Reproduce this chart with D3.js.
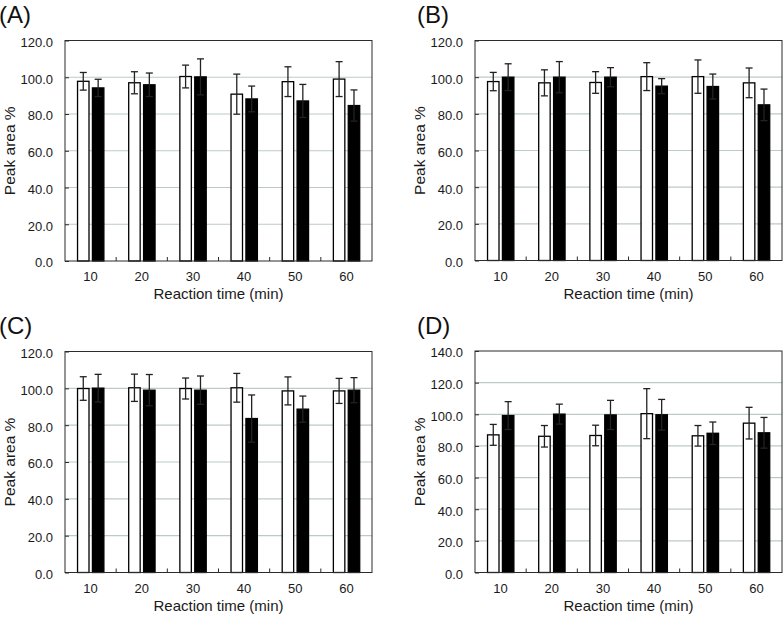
<!DOCTYPE html>
<html lang="en">
<head>
  <meta charset="UTF-8">
  <title>Peak area vs reaction time</title>
  <script src="https://d3js.org/d3.v7.min.js"></script>
  <style>
    body { margin: 0; padding: 0; background: #fff; }
    svg { display: block; font-family: "Liberation Sans", Arial, sans-serif; }
    .grid { stroke: #bccbc8; stroke-width: 1.2; }
    .frame { fill: none; stroke: #2b2b2b; stroke-width: 1; }
    .tick text { fill: #1a1a1a; }
    .tick line { stroke: #2b2b2b; }
    .err { stroke: #222; stroke-width: 1.3; }
  </style>
</head>
<body>
  <div id="chart"></div>

  <script>
    // categories
    const times = ["10", "20", "30", "40", "50", "60"];
    const series = ["white", "black"];

    // tick labels
    const ticks120 = [0, 20, 40, 60, 80, 100, 120];
    const ticks140 = [0, 20, 40, 60, 80, 100, 120, 140];

    // (A)
    const aWhite = [97.8, 97.0, 100.4, 90.8, 97.6, 99.0];
    const aWhiteErr = [4.8, 6.0, 6.2, 10.9, 8.1, 9.5];
    const aBlack = [94.2, 95.9, 100.2, 88.2, 87.1, 84.6];
    const aBlackErr = [4.7, 6.4, 9.8, 7.0, 9.0, 8.5];

    // (B)
    const bWhite = [97.6, 96.9, 97.1, 100.3, 100.3, 96.9];
    const bWhiteErr = [5.0, 7.1, 5.9, 7.6, 9.1, 8.1];
    const bBlack = [100.0, 100.0, 100.0, 95.1, 94.9, 84.9];
    const bBlackErr = [7.3, 8.5, 5.2, 4.1, 6.8, 8.6];

    // (C)
    const cWhite = [99.9, 100.3, 99.9, 100.3, 98.6, 98.6];
    const cWhiteErr = [6.4, 7.4, 5.7, 7.8, 7.6, 6.8];
    const cBlack = [100.1, 99.0, 99.0, 83.6, 88.7, 99.0];
    const cBlackErr = [7.5, 8.5, 7.7, 12.8, 7.1, 6.8];

    // (D)
    const dWhite = [87.0, 86.1, 86.6, 100.4, 86.4, 94.4];
    const dWhiteErr = [6.6, 6.8, 6.5, 15.8, 6.5, 10.0];
    const dBlack = [99.2, 100.1, 99.6, 99.7, 88.0, 88.3];
    const dBlackErr = [8.8, 6.3, 9.2, 9.7, 7.1, 9.7];

    const panels = [
      { label: "(A)", lx: -1, ly: 22.5, left: 65, top: 40.5, right: 372, bottom: 261,
        ticks: ticks120, white: aWhite, whiteErr: aWhiteErr, black: aBlack, blackErr: aBlackErr },
      { label: "(B)", lx: 417, ly: 22.5, left: 475, top: 40.5, right: 782, bottom: 260.5,
        ticks: ticks120, white: bWhite, whiteErr: bWhiteErr, black: bBlack, blackErr: bBlackErr },
      { label: "(C)", lx: -1, ly: 333.5, left: 65, top: 351.5, right: 372, bottom: 572.5,
        ticks: ticks120, white: cWhite, whiteErr: cWhiteErr, black: cBlack, blackErr: cBlackErr },
      { label: "(D)", lx: 417, ly: 334, left: 475, top: 351, right: 782, bottom: 572.5,
        ticks: ticks140, white: dWhite, whiteErr: dWhiteErr, black: dBlack, blackErr: dBlackErr }
    ];

    const svg = d3.select("#chart")
      .append("svg")
      .attr("width", 784)
      .attr("height", 618);

    panels.forEach(p => drawPanel(p));

    function drawPanel(p) {
      const g = svg.append("g");

      const x = d3.scaleBand()
        .domain(times)
        .range([p.left, p.right])
        .padding(0);

      const bw = x.bandwidth();
      const xs = d3.scaleBand()
        .domain(series)
        .range([0.245 * bw, 0.76 * bw])
        .paddingInner(0.23)
        .paddingOuter(0);

      const y = d3.scaleLinear()
        .domain([0, d3.max(p.ticks)])
        .range([p.bottom, p.top]);

      // gridlines
      g.selectAll(".grid")
        .data(p.ticks.slice(1, -1))
        .enter()
        .append("line")
        .attr("class", "grid")
        .attr("x1", p.left)
        .attr("x2", p.right)
        .attr("y1", d => y(d))
        .attr("y2", d => y(d));

      // y axis (ticks point inward)
      g.append("g")
        .attr("transform", `translate(${p.left},0)`)
        .call(d3.axisLeft(y).tickValues(p.ticks).tickSize(-4).tickPadding(12).tickFormat(d3.format(".1f")))
        .attr("font-size", 13)
        .attr("font-family", "Liberation Sans, Arial, sans-serif")
        .call(a => a.select(".domain").remove())
        .call(a => a.selectAll("text").attr("dy", "0.45em"));

      // x axis labels at band centres
      g.append("g")
        .attr("transform", `translate(0,${p.bottom})`)
        .call(d3.axisBottom(x).tickSize(0).tickPadding(11))
        .attr("font-size", 13)
        .attr("font-family", "Liberation Sans, Arial, sans-serif")
        .call(a => a.select(".domain").remove());

      // x ticks between categories, pointing up
      g.selectAll(".xtick")
        .data(times.slice(0, -1))
        .enter()
        .append("line")
        .attr("class", "xtick")
        .attr("stroke", "#2b2b2b")
        .attr("x1", d => x(d) + bw)
        .attr("x2", d => x(d) + bw)
        .attr("y1", p.bottom)
        .attr("y2", p.bottom - 4);

      const rows = times.map((t, i) => [
        { t, s: "white", v: p.white[i], e: p.whiteErr[i] },
        { t, s: "black", v: p.black[i], e: p.blackErr[i] }
      ]).flat();

      // bars
      g.selectAll(".bar")
        .data(rows)
        .enter()
        .append("rect")
        .attr("class", "bar")
        .attr("x", d => x(d.t) + xs(d.s))
        .attr("y", d => y(d.v))
        .attr("width", xs.bandwidth())
        .attr("height", d => p.bottom - y(d.v))
        .attr("fill", d => d.s === "white" ? "#fff" : "#000")
        .attr("stroke", "#000")
        .attr("stroke-width", 1.3);

      // error bars
      const cx = d => x(d.t) + xs(d.s) + xs.bandwidth() / 2;
      const eb = g.selectAll(".eb")
        .data(rows)
        .enter()
        .append("g");

      eb.append("line")
        .attr("class", "err")
        .attr("x1", cx).attr("x2", cx)
        .attr("y1", d => y(d.v + d.e))
        .attr("y2", d => y(d.v - d.e));

      [1, -1].forEach(sign => {
        eb.append("line")
          .attr("class", "err")
          .attr("x1", d => cx(d) - 3.5)
          .attr("x2", d => cx(d) + 3.5)
          .attr("y1", d => y(d.v + sign * d.e))
          .attr("y2", d => y(d.v + sign * d.e));
      });

      // plot frame
      g.append("rect")
        .attr("class", "frame")
        .attr("x", p.left)
        .attr("y", p.top)
        .attr("width", p.right - p.left)
        .attr("height", p.bottom - p.top);

      // axis titles
      g.append("text")
        .attr("x", (p.left + p.right) / 2)
        .attr("y", p.bottom + 38)
        .attr("text-anchor", "middle")
        .attr("font-size", 15)
        .attr("fill", "#1a1a1a")
        .text("Reaction time (min)");

      g.append("text")
        .attr("transform", `translate(${p.left - 50},${(p.top + p.bottom) / 2}) rotate(-90)`)
        .attr("text-anchor", "middle")
        .attr("font-size", 15.5)
        .attr("fill", "#1a1a1a")
        .text("Peak area %");

      // panel label
      g.append("text")
        .attr("x", p.lx)
        .attr("y", p.ly)
        .attr("font-size", 24)
        .attr("fill", "#111")
        .text(p.label);
    }
  </script>
</body>
</html>
